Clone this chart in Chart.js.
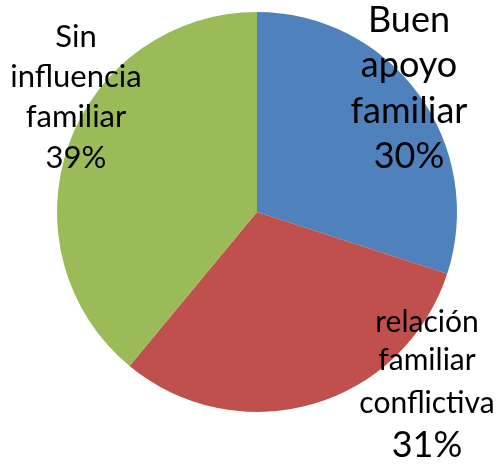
<!DOCTYPE html>
<html>
<head>
<meta charset="utf-8">
<script src="https://cdn.jsdelivr.net/npm/chart.js"></script>
<style>
  html, body { margin: 0; padding: 0; background: #ffffff; }
  #wrap { width: 496px; height: 467px; position: relative; }
</style>
</head>
<body>
<div id="wrap"><canvas id="c" width="496" height="467"></canvas></div>
<script>
// ---- data ----
const categories = ['Buen apoyo familiar', 'relación familiar conflictiva', 'Sin influencia familiar'];
const categoryLines = [
  ['Buen', 'apoyo', 'familiar'],
  ['relación', 'familiar', 'conflictiva'],
  ['Sin', 'influencia', 'familiar']
];
const percentages = [30, 31, 39];
const sliceColors = ['#4F81BD', '#C0504D', '#9BBB59'];

// ---- label layout (text placement only) ----
const labelLayout = [
  { x: 409, baselines: [32, 77, 123, 168], sizes: [36, 36, 36, 36] },
  { x: 427, baselines: [332, 370, 413, 457], sizes: [30, 30, 30, 36] },
  { x: 76,  baselines: [47, 87, 127, 168], sizes: [31, 31, 31, 31] }
];
const FONT = 'Lato, "Open Sans", sans-serif';

const labelPlugin = {
  id: 'sliceLabels',
  afterDatasetsDraw(chart) {
    const ctx = chart.ctx;
    const ds = chart.data.datasets[0];
    ctx.save();
    ctx.fillStyle = '#000000';
    ctx.textAlign = 'center';
    ctx.textBaseline = 'alphabetic';
    categoryLines.forEach((lines, i) => {
      const lay = labelLayout[i];
      const all = lines.concat([ds.data[i] + '%']);
      all.forEach((t, j) => {
        ctx.font = lay.sizes[j] + 'px ' + FONT;
        ctx.fillText(t, lay.x, lay.baselines[j]);
      });
    });
    ctx.restore();
  }
};

new Chart(document.getElementById('c'), {
  type: 'pie',
  data: {
    labels: categories,
    datasets: [{
      data: percentages,
      backgroundColor: sliceColors,
      borderWidth: 0
    }]
  },
  options: {
    responsive: false,
    animation: false,
    layout: { padding: { left: 57, right: 39, top: 12, bottom: 55 } },
    plugins: {
      legend: { display: false },
      tooltip: { enabled: false }
    }
  },
  plugins: [labelPlugin]
});
</script>
</body>
</html>
